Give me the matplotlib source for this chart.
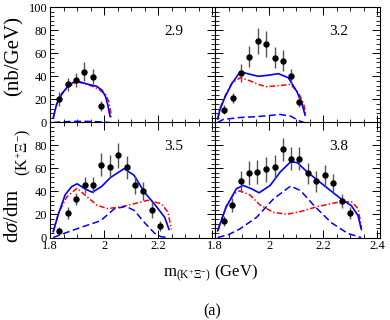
import matplotlib.pyplot as plt
from matplotlib.ticker import MultipleLocator, FuncFormatter

plt.rcParams['font.family'] = ['Liberation Serif', 'DejaVu Serif']
plt.rcParams['mathtext.fontset'] = 'custom'
plt.rcParams['mathtext.rm'] = 'Liberation Serif'
plt.rcParams['mathtext.it'] = 'Liberation Serif:italic'
plt.rcParams['lines.scale_dashes'] = False

# photon energy bins (GeV)
labels = ['2.9', '3.2', '3.5', '3.8']

# data points: mass (GeV), dsigma/dm (nb/GeV), error
e29_x = [1.834, 1.865, 1.896, 1.927, 1.958, 1.988]
e29_y = [20, 33, 36.5, 44, 39.5, 14.5]
e29_err = [6, 5.5, 6, 8, 6.5, 4.5]

e32_x = [1.834, 1.865, 1.896, 1.927, 1.958, 1.989, 2.020, 2.051, 2.080, 2.110]
e32_y = [11, 21, 43, 57, 70.5, 68, 56, 53.5, 40, 17.5]
e32_err = [4, 4.5, 8, 9, 11, 11, 9, 9, 6.5, 4.5]

e35_x = [1.835, 1.866, 1.897, 1.928, 1.960, 1.990, 2.021, 2.052, 2.083,
         2.114, 2.145, 2.176, 2.207]
e35_y = [5.8, 21.2, 33.4, 45.6, 45.6, 62.9, 61.3, 71.2, 60.7, 45.6, 40.1, 23.7, 9.8]
e35_err = [3, 5, 5, 7, 7, 10, 10, 11, 10, 8, 8, 7, 4.5]

e38_x = [1.832, 1.864, 1.895, 1.926, 1.957, 1.989, 2.020, 2.051, 2.081,
         2.112, 2.143, 2.175, 2.206, 2.237, 2.269, 2.300]
e38_y = [14.5, 28.4, 48.5, 55.8, 56.7, 59, 61.1, 76.4, 68.2, 68.2, 55.5,
         48.5, 53.8, 47.4, 31.7, 21.2]
e38_err = [4.5, 6, 9.5, 10.5, 10, 11, 10, 10, 10, 10, 9, 9, 9, 8, 6, 5]

# model curves: total (blue solid), background (red dash-dot), resonance (blue dashed)
e29_tot_x = [1.812, 1.825, 1.844, 1.868, 1.896, 1.937, 1.973, 1.993, 2.006, 2.014, 2.022]
e29_tot_y = [4, 16.2, 25, 31.9, 36.2, 33.3, 31.3, 27.8, 22, 14.8, 5.2]
e29_bg_x = [1.812, 1.825, 1.844, 1.868, 1.900, 1.937, 1.979, 2.006, 2.018, 2.024, 2.026]
e29_bg_y = [4, 16, 24.5, 31, 35, 33.3, 29, 24, 17.7, 9, 4]
e29_res_x = [1.812, 1.84, 1.87, 1.90, 1.93, 1.96, 1.99, 2.02]
e29_res_y = [0, 0.5, 0.8, 1, 1, 0.8, 0.5, 0]

e32_tot_x = [1.810, 1.818, 1.837, 1.862, 1.893, 1.925, 1.960, 2.000, 2.034,
             2.071, 2.103, 2.121, 2.133]
e32_tot_y = [3, 11, 22, 33.6, 44, 42, 40, 41, 42.3, 38.8, 26.7, 16.5, 6.4]
e32_bg_x = [1.810, 1.818, 1.837, 1.862, 1.893, 1.930, 1.960, 1.990, 2.040,
            2.080, 2.110, 2.128, 2.136]
e32_bg_y = [3, 12, 23, 34, 38.8, 36, 33, 31, 32, 33, 25, 16, 6]
e32_res_x = [1.810, 1.830, 1.890, 1.950, 2.000, 2.040, 2.080, 2.110, 2.130]
e32_res_y = [0, 2.6, 4.3, 5, 6, 7, 5.5, 1.5, 0]

e35_tot_x = [1.812, 1.831, 1.856, 1.880, 1.900, 1.930, 1.956, 1.990, 2.024,
             2.074, 2.111, 2.149, 2.186, 2.224, 2.240]
e35_tot_y = [5, 20.3, 37, 44, 46.5, 42, 39.2, 44, 52, 59.6, 53.8, 39.2, 29, 17.5, 7]
e35_bg_x = [1.812, 1.831, 1.862, 1.900, 1.937, 1.974, 2.012, 2.062, 2.112,
            2.161, 2.211, 2.236, 2.249]
e35_bg_y = [5, 21, 35.2, 42.7, 35.2, 27.9, 25, 26.5, 29.3, 32.2, 29.3, 22, 7]
e35_res_x = [1.812, 1.862, 1.925, 1.987, 2.037, 2.081, 2.112, 2.149, 2.186, 2.211, 2.240]
e35_res_y = [0, 4.4, 9.6, 14.5, 24.7, 27, 23.3, 13, 3.8, 0.6, 0]

e38_tot_x = [1.810, 1.841, 1.879, 1.904, 1.935, 1.963, 2.004, 2.041, 2.079,
             2.104, 2.141, 2.203, 2.266, 2.304, 2.329, 2.340]
e38_tot_y = [5.8, 26.2, 42.2, 45.1, 42.2, 38.7, 45.1, 56.7, 65.4, 64.9, 56.7,
             45.1, 33.4, 27.6, 18.9, 7.9]
e38_bg_x = [1.810, 1.841, 1.870, 1.891, 1.929, 1.966, 2.016, 2.066, 2.116,
            2.179, 2.254, 2.304, 2.329, 2.338, 2.342]
e38_bg_y = [5.8, 27, 38, 40.4, 36.9, 28.2, 21.8, 20.1, 22.4, 26.8, 30.5, 31, 25, 13, 6]
e38_res_x = [1.810, 1.850, 1.891, 1.954, 2.016, 2.079, 2.116, 2.166, 2.229, 2.291, 2.340]
e38_res_y = [0, 2.5, 7.3, 17.5, 33.4, 44.5, 40.7, 27.6, 13, 3.5, 0]

panels = [
    (e29_x, e29_y, e29_err, e29_tot_x, e29_tot_y, e29_bg_x, e29_bg_y, e29_res_x, e29_res_y),
    (e32_x, e32_y, e32_err, e32_tot_x, e32_tot_y, e32_bg_x, e32_bg_y, e32_res_x, e32_res_y),
    (e35_x, e35_y, e35_err, e35_tot_x, e35_tot_y, e35_bg_x, e35_bg_y, e35_res_x, e35_res_y),
    (e38_x, e38_y, e38_err, e38_tot_x, e38_tot_y, e38_bg_x, e38_bg_y, e38_res_x, e38_res_y),
]

W, H = 390, 320
fig = plt.figure(figsize=(3.9, 3.2), dpi=100)
lefts = [50, 215, 50, 215]
tops = [7, 7, 122, 122]
pw, ph = 165, 115.5

for i, (px, py, pe, tx, ty, bx, by, rx, ry) in enumerate(panels):
    ax = fig.add_axes([lefts[i] / W, 1 - (tops[i] + ph) / H, pw / W, ph / H])
    ax.errorbar(px, py, yerr=pe, fmt='o', color='black', ms=4.6, mew=0,
                ecolor='#555555', elinewidth=1, capsize=0, zorder=5)
    ax.plot(bx, by, color='red', lw=1.1, ls=(0, (4, 1.6, 1, 1.6)))
    ax.plot(tx, ty, color='blue', lw=1.2)
    ax.plot(rx, ry, color='blue', lw=1.1, ls=(0, (5, 2.5)))
    ax.set_xlim(1.8, 2.41)
    ax.set_ylim(0, 100)
    ax.text(0.75, 0.79, labels[i], transform=ax.transAxes, fontsize=11,
            ha='center', va='center')

    ax.xaxis.set_major_locator(MultipleLocator(0.2))
    ax.xaxis.set_minor_locator(MultipleLocator(0.05))
    ax.yaxis.set_major_locator(MultipleLocator(20))
    ax.yaxis.set_minor_locator(MultipleLocator(4))
    ax.tick_params(which='both', direction='in', top=True, right=True, labelsize=9, pad=2)
    ax.tick_params(which='major', length=6, width=0.7)
    ax.tick_params(which='minor', length=3, width=0.6)
    for s in ax.spines.values():
        s.set_linewidth(0.8)

    if i < 2:
        ax.tick_params(labelbottom=False)
    elif i == 2:
        ax.xaxis.set_major_formatter(FuncFormatter(lambda v, p: '' if v > 2.35 else '%g' % round(v, 2)))
    else:
        ax.xaxis.set_major_formatter(FuncFormatter(lambda v, p: '%g' % round(v, 2)))

    if i % 2 == 1:
        ax.tick_params(labelleft=False)
    elif i == 2:
        ax.yaxis.set_major_formatter(FuncFormatter(lambda v, p: '' if v > 90 else '%g' % v))

# y title, built in pieces so the subscript keeps its large size
fig.text(14 / W, 1 - 216 / H, r'd$\sigma$/dm', rotation=90,
         ha='center', va='center', fontsize=15)
fig.text(23 / W, 1 - 152 / H, r'(K$^{+}\Xi^{-}$)', rotation=90,
         ha='center', va='center', fontsize=11.5)
fig.text(14 / W, 1 - 56 / H, '(nb/GeV)', rotation=90,
         ha='center', va='center', fontsize=15)

fig.text(211 / W, 1 - 273 / H, r'm$_{(\mathrm{K^{+}\Xi^{-}})}$ (GeV)',
         ha='center', va='center', fontsize=12)
fig.text(212 / W, 1 - 311 / H, '(a)', ha='center', va='center', fontsize=11.5)

fig.savefig('out.png', dpi=100)
